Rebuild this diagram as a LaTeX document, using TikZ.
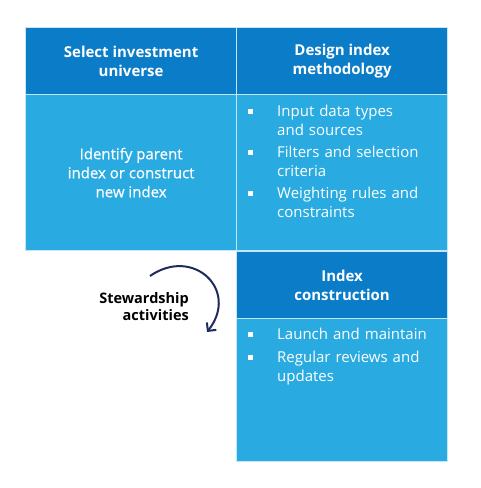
\documentclass[tikz,border=0pt]{standalone}
\usepackage{fontspec}
\setmainfont{Open Sans}
\newfontfamily\medfont[FakeBold=0.6]{Open Sans}
\usetikzlibrary{arrows.meta}
\definecolor{hdblue}{HTML}{0A7CC8}
\definecolor{bdblue}{HTML}{29ABE2}
\definecolor{cellline}{HTML}{C4E6F7}
\definecolor{navy}{HTML}{1E2B5C}
\tikzset{
  cell/.style={draw=cellline, line width=1.2pt, anchor=north west, inner sep=0pt,
    text=white, align=center, font=\fontsize{15}{19}\selectfont},
  hdcell/.style={cell, fill=hdblue, font=\fontsize{15}{19}\selectfont\bfseries},
  bdcell/.style={cell, fill=bdblue, font=\fontsize{15}{19}\medfont},
  bul/.style={fill=white, minimum size=5pt, inner sep=0pt},
  item/.style={text=white, text width=170pt, align=left, anchor=base west, inner sep=0pt,
    font=\fontsize{15}{19}\selectfont},
}
\begin{document}
\begin{tikzpicture}[x=1pt,y=-1pt]
    \useasboundingbox (0,0) rectangle (480,488);
    % Top row
    \node[hdcell, minimum width=211pt, minimum height=67pt] (selHd) at (25,27) {Select investment\\universe};
    \node[hdcell, minimum width=211pt, minimum height=67pt] (desHd) at (236,27) {Design index\\methodology};
    
    % Second row
    \node[bdcell, minimum width=211pt, minimum height=156pt] (selBd) at (25,94) {Identify parent\\index or construct\\new index};
    \node[bdcell, minimum width=211pt, minimum height=156pt] (desBd) at (236,94) {};
    
    % Index construction
    \node[hdcell, minimum width=211pt, minimum height=67pt] (conHd) at (236,251) {Index\\construction};
    \node[bdcell, minimum width=211pt, minimum height=143pt] (conBd) at (236,318) {};
    
    % Methodology items
    \node[bul] (bulA) at (250,111) {};
    \node[item] (itemA) at (277,116) {Input data types\\and sources};
    \node[bul] (bulB) at (250,152) {};
    \node[item] (itemB) at (277,157) {Filters and selection\\criteria};
    \node[bul] (bulC) at (250,193) {};
    \node[item] (itemC) at (277,198) {Weighting rules and\\constraints};
    
    % Construction items
    \node[bul] (bulD) at (250,334) {};
    \node[item] (itemD) at (277,339) {Launch and maintain};
    \node[bul] (bulE) at (250,357) {};
    \node[item] (itemE) at (277,362) {Regular reviews and\\updates};
    
    % Stewardship
    \node[anchor=east, align=right, inner sep=0pt, font=\fontsize{14.5}{17.5}\selectfont\bfseries] (stew) at (189,306.5) {Stewardship\\activities};
    \coordinate (arcStart) at (150,276);
    \coordinate (arcEnd) at (207,332);
    \draw[navy, line width=2pt, -{Straight Barb[length=6pt,width=12pt]}] (arcStart) .. controls (193,246) and (240,290) .. (arcEnd);
\end{tikzpicture}
\end{document}
